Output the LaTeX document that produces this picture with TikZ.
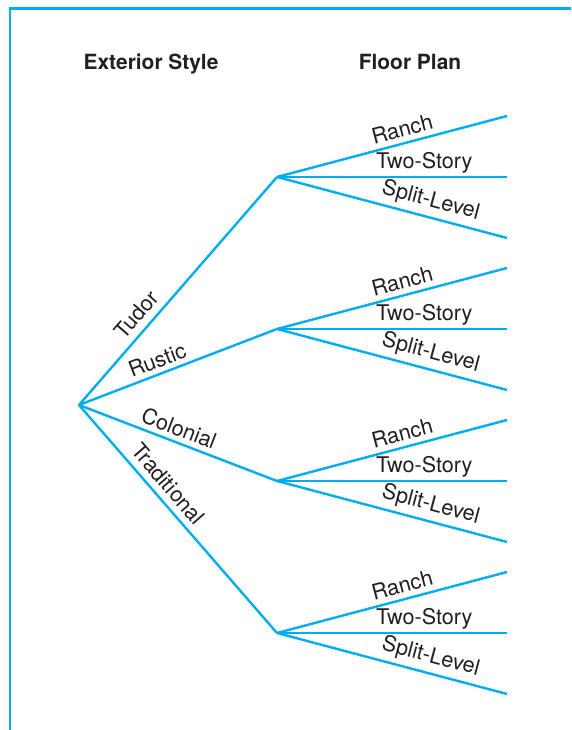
\documentclass[tikz,border=0pt]{standalone}
\usepackage{fontspec}
\setmainfont{TeX Gyre Heros}
\usetikzlibrary{positioning}

\definecolor{treeblue}{RGB}{0,174,239}
\definecolor{inkgray}{RGB}{35,31,32}

\tikzset{
  branch/.style={treeblue, line width=1.8pt},
  lbl/.style={sloped, above, inner sep=3.5pt, text=inkgray, font=\fontsize{16.2}{18}\selectfont},
  head/.style={anchor=base, text=inkgray, font=\fontsize{15.7}{18}\selectfont\bfseries}
}

\begin{document}
\begin{tikzpicture}[x=0.75pt, y=-0.75pt]
	\useasboundingbox (0,0) rectangle (571,730);
	% frame
	\draw[branch, line width=2.2pt] (571,8.5) -- (10,8.5) -- (10,730);
	% headings
	\node[head] (ext) at (151,70) {Exterior Style};
	\node[head] (plan) at (410,70) {Floor Plan};
	% first stage
	\coordinate (root) at (79,405);
	\foreach \b/\y in {tudor/177, rustic/329, colonial/481, trad/633}
		\coordinate (\b) at (277,\y);
	\draw[branch] (root) -- node[lbl, pos=.35, inner sep=5pt] {Tudor} (tudor);
	\draw[branch] (root) -- node[lbl, pos=.42] {Rustic} (rustic);
	\draw[branch] (root) -- node[lbl, pos=.48] {Colonial} (colonial);
	\draw[branch] (root) -- node[lbl, pos=.39, inner sep=5pt] {Traditional} (trad);
	% second stage
	\foreach \b in {tudor, rustic, colonial, trad} {
		\path (\b) ++(230,-61) coordinate (\b-ranch)
		      (\b) ++(230,0) coordinate (\b-two)
		      (\b) ++(230,61) coordinate (\b-split);
		\draw[branch] (\b) -- node[lbl, pos=.56] {Ranch} (\b-ranch);
		\draw[branch] (\b) -- node[lbl, pos=.64, inner sep=2pt] {Two-Story} (\b-two);
		\draw[branch] (\b) -- node[lbl, pos=.65] {Split-Level} (\b-split);
	}
\end{tikzpicture}
\end{document}
